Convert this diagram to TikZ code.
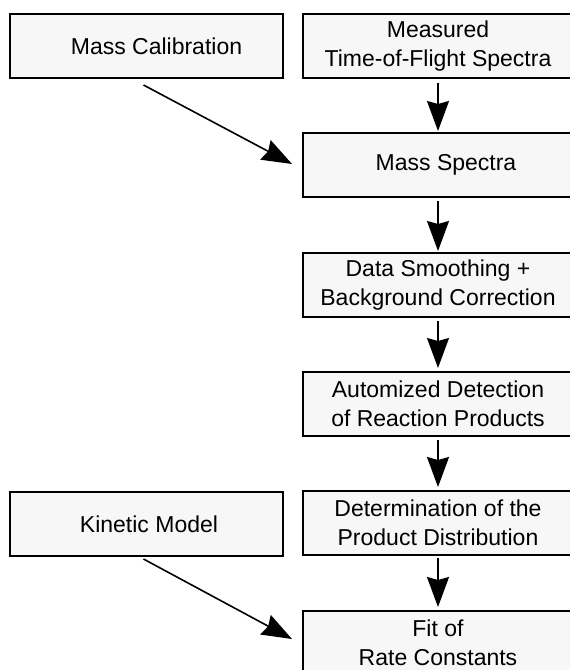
\documentclass[tikz,border=0pt]{standalone}
\usepackage{fontspec}
\setmainfont{Liberation Sans}
\usetikzlibrary{arrows.meta}
\definecolor{boxfill}{RGB}{247,247,247}
\begin{document}
\begin{tikzpicture}[x=1pt,y=-1pt,
  box/.style={draw=black, fill=boxfill, line width=1.5pt, rectangle,
    inner sep=0pt, outer sep=0pt, align=center,
    font=\fontsize{23}{29.5}\selectfont},
  leftbox/.style={box, minimum width=273pt, minimum height=64pt},
  rightbox/.style={box, minimum width=270pt, minimum height=64pt},
  arr/.style={line width=1.6pt, -{Stealth[length=30pt,width=22pt,inset=3pt]}}
]
\useasboundingbox (0,0) rectangle (570,670);
\clip (0,0) rectangle (570,670);
\fill[white] (0,0) rectangle (570,670);

\node[leftbox] (mc) at (146.5,46) {\hspace*{20pt}Mass Calibration};
\node[leftbox] (km) at (146.5,524) {\hspace*{5pt}Kinetic Model};

\node[rightbox] (tof) at (438,46) {Measured\\Time-of-Flight Spectra};
\node[rightbox] (ms)  at (438,165) {\hspace*{16pt}Mass Spectra};
\node[rightbox] (ds)  at (438,285) {Data Smoothing +\\Background Correction};
\node[rightbox] (ad)  at (438,404) {Automized Detection\\of Reaction Products};
\node[rightbox] (dp)  at (438,523) {Determination of the\\Product Distribution};
\node[rightbox] (fit) at (438,643) {Fit of\\Rate Constants};

\draw[arr, shorten <=5pt, shorten >=2pt] (tof.south) -- (ms.north);
\draw[arr, shorten <=4pt, shorten >=2pt] (ms.south) -- (ds.north);
\draw[arr, shorten <=4pt, shorten >=4pt] (ds.south) -- (ad.north);
\draw[arr, shorten <=4pt, shorten >=4pt] (ad.south) -- (dp.north);
\draw[arr, shorten <=3pt, shorten >=4pt] (dp.south) -- (fit.north);

\draw[arr] ([xshift=-3pt,yshift=-7pt]mc.south) -- ([xshift=-11pt,yshift=1pt]ms.west);
\draw[arr] ([xshift=-3pt,yshift=-3pt]km.south) -- ([xshift=-11pt,yshift=4pt]fit.west);
\end{tikzpicture}
\end{document}
